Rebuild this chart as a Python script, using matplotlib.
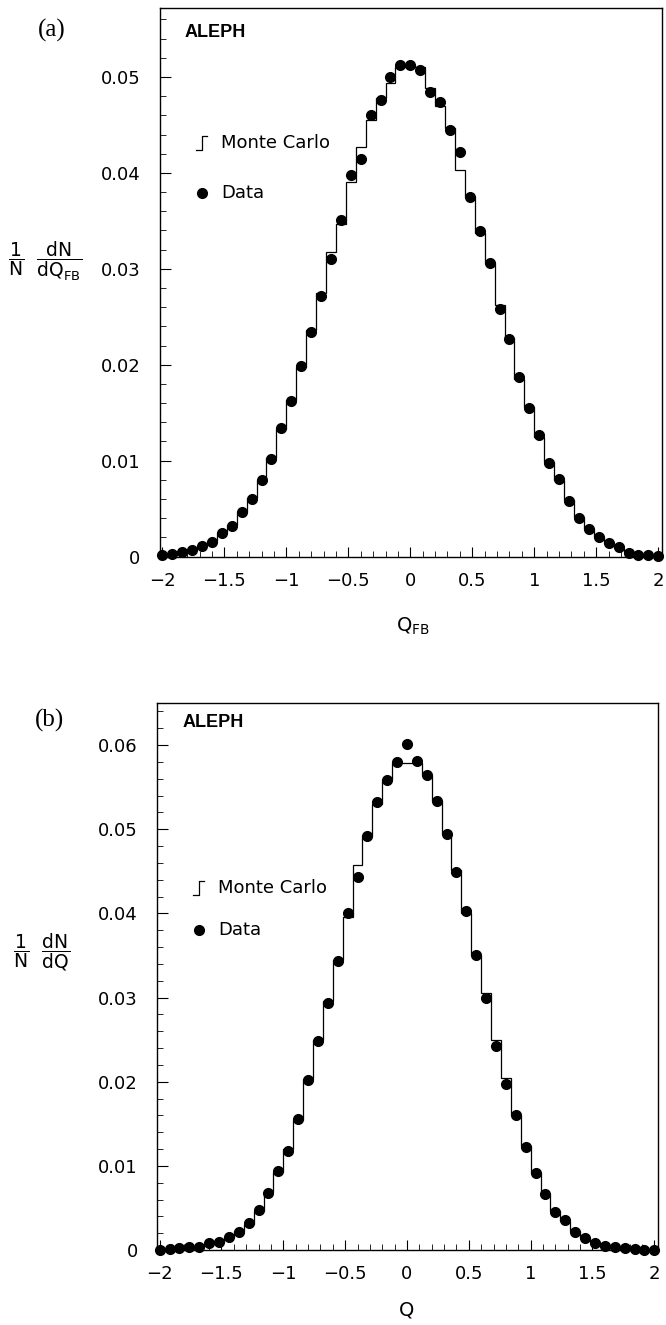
import numpy as np
import matplotlib
matplotlib.use('Agg')
import matplotlib.pyplot as plt
from matplotlib.ticker import MultipleLocator, FuncFormatter

# bin centres (-2 ... 2, step 0.08) and bin edges for the MC histogram
q_centres = np.round(np.arange(-2.0, 2.0001, 0.08), 2)
q_edges = np.round(np.arange(-2.04, 2.0401, 0.08), 2)

# (a) Q_FB distribution
data_a = [0.0002, 0.0003, 0.0005, 0.0007, 0.0011, 0.0015, 0.0024, 0.0032, 0.0046, 0.0060,
          0.0080, 0.0102, 0.0134, 0.0162, 0.0199, 0.0234, 0.0272, 0.0310, 0.0351, 0.0398,
          0.0415, 0.0460, 0.0476, 0.0500, 0.0512, 0.0513, 0.0507, 0.0484, 0.0474, 0.0445,
          0.0422, 0.0375, 0.0339, 0.0306, 0.0258, 0.0227, 0.0187, 0.0155, 0.0127, 0.0098,
          0.0081, 0.0058, 0.0040, 0.0029, 0.0020, 0.0014, 0.0010, 0.0004, 0.0002, 0.0002, 0.0001]
mc_a = [0.0002, 0.0003, 0.0005, 0.0007, 0.0011, 0.0016, 0.0024, 0.0033, 0.0046, 0.0061,
        0.0080, 0.0103, 0.0133, 0.0163, 0.0198, 0.0236, 0.0275, 0.0318, 0.0347, 0.0391,
        0.0427, 0.0455, 0.0478, 0.0494, 0.0510, 0.0512, 0.0510, 0.0489, 0.0470, 0.0447,
        0.0403, 0.0375, 0.0337, 0.0306, 0.0262, 0.0228, 0.0185, 0.0156, 0.0125, 0.0099,
        0.0080, 0.0059, 0.0041, 0.0029, 0.0020, 0.0014, 0.0009, 0.0005, 0.0003, 0.0002, 0.0001]

# (b) Q distribution
data_b = [0.0000, 0.0001, 0.0002, 0.0003, 0.0004, 0.0008, 0.0009, 0.0016, 0.0021, 0.0032,
          0.0047, 0.0068, 0.0094, 0.0118, 0.0156, 0.0202, 0.0248, 0.0294, 0.0344, 0.0401,
          0.0443, 0.0492, 0.0532, 0.0558, 0.0580, 0.0601, 0.0581, 0.0565, 0.0534, 0.0494,
          0.0449, 0.0403, 0.0350, 0.0300, 0.0242, 0.0197, 0.0161, 0.0123, 0.0091, 0.0066,
          0.0045, 0.0036, 0.0021, 0.0014, 0.0008, 0.0005, 0.0004, 0.0002, 0.0001, 0.0000, 0.0000]
mc_b = [0.0000, 0.0001, 0.0002, 0.0003, 0.0005, 0.0007, 0.0010, 0.0015, 0.0022, 0.0031,
        0.0046, 0.0069, 0.0093, 0.0120, 0.0155, 0.0203, 0.0250, 0.0296, 0.0345, 0.0396,
        0.0457, 0.0492, 0.0530, 0.0558, 0.0579, 0.0579, 0.0579, 0.0565, 0.0534, 0.0494,
        0.0451, 0.0401, 0.0350, 0.0305, 0.0249, 0.0204, 0.0160, 0.0124, 0.0092, 0.0067,
        0.0046, 0.0035, 0.0022, 0.0014, 0.0009, 0.0005, 0.0003, 0.0002, 0.0001, 0.0000, 0.0000]

plt.rcParams['font.family'] = ['DejaVu Sans']
plt.rcParams['mathtext.fontset'] = 'dejavusans'
plt.rcParams['mathtext.default'] = 'regular'

fig = plt.figure(figsize=(6.66, 13.25), dpi=100)
ax1 = fig.add_axes([0.240, 0.580, 0.754, 0.414])
ax2 = fig.add_axes([0.236, 0.0566, 0.752, 0.4128])

fmt = FuncFormatter(lambda v, p: ('%g' % round(v, 4)).replace('-', '\u2212'))


def draw_panel(ax, data, mc, ytop, leg_y):
    ax.stairs(mc, q_edges, color='black', lw=0.9)
    ax.plot(q_centres, data, 'o', color='black', ms=7, clip_on=False, zorder=3)
    ax.set_xlim(-2.02, 2.03)
    ax.set_ylim(0, ytop)
    ax.xaxis.set_major_locator(MultipleLocator(0.5))
    ax.xaxis.set_minor_locator(MultipleLocator(0.1))
    ax.yaxis.set_major_locator(MultipleLocator(0.01))
    ax.yaxis.set_minor_locator(MultipleLocator(0.002))
    ax.xaxis.set_major_formatter(fmt)
    ax.yaxis.set_major_formatter(fmt)
    ax.tick_params(which='both', direction='in', top=False, right=False, labelsize=13)
    ax.tick_params(axis='y', which='major', length=8, pad=14)
    ax.tick_params(axis='x', which='major', length=7, pad=11)
    ax.tick_params(which='minor', length=4)
    for s in ax.spines.values():
        s.set_linewidth(1.0)
    ax.text(0.05, leg_y[0], 'ALEPH', transform=ax.transAxes, fontsize=13,
            fontweight='bold', family='Liberation Sans', va='center')
    # legend: MC step symbol and data dot
    ym, yd = leg_y[1], leg_y[2]
    ax.plot([0.072, 0.083, 0.083, 0.094], [ym - 0.013, ym - 0.013, ym + 0.013, ym + 0.013],
            color='black', lw=0.9, transform=ax.transAxes)
    ax.text(0.122, ym, 'Monte Carlo', transform=ax.transAxes, fontsize=13, va='center')
    ax.plot([0.083], [yd], 'o', color='black', ms=7, transform=ax.transAxes)
    ax.text(0.122, yd, 'Data', transform=ax.transAxes, fontsize=13, va='center')


draw_panel(ax1, data_a, mc_a, 0.0572, (0.956, 0.754, 0.662))
draw_panel(ax2, data_b, mc_b, 0.065, (0.965, 0.662, 0.585))

fig.text(0.068, 0.803, r'$\dfrac{1}{N}\ \ \dfrac{dN}{dQ_{FB}}$', fontsize=13.5, ha='center', va='center')
fig.text(0.062, 0.2815, r'$\dfrac{1}{N}\ \ \dfrac{dN}{dQ}$', fontsize=13.5, ha='center', va='center')
fig.text(0.62, 0.5275, r'$Q_{FB}$', fontsize=14, ha='center', va='center')
fig.text(0.611, 0.0113, 'Q', fontsize=14, ha='center', va='center')
fig.text(0.078, 0.977, '(a)', fontsize=18, family='Liberation Serif', ha='center', va='center')
fig.text(0.075, 0.4566, '(b)', fontsize=18, family='Liberation Serif', ha='center', va='center')

fig.savefig('out.png', dpi=100)
